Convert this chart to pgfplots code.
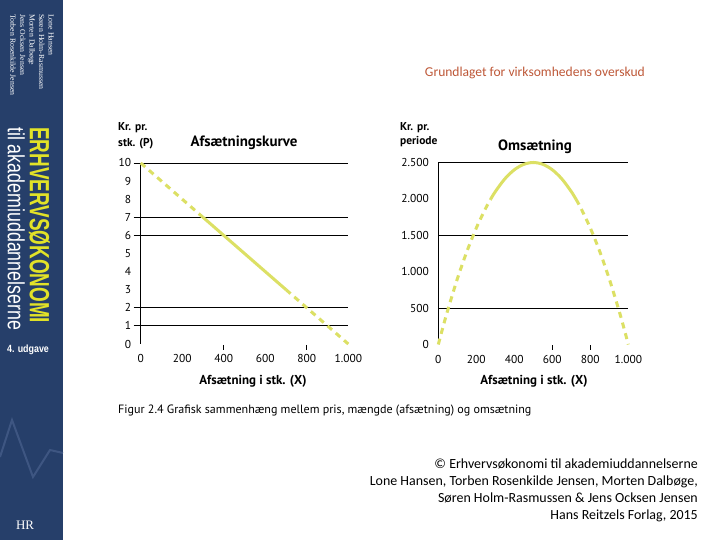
\documentclass[border=0pt]{standalone}
\usepackage{fontspec}
\usepackage{graphicx}
\usepackage{pgfplots}
\pgfplotsset{compat=1.18}
\setmainfont{PT Sans}
\newfontfamily\calib{Carlito}
\newfontfamily\coverserif{Liberation Serif}
\newfontfamily\coversans{Liberation Sans}
\definecolor{curvecol}{RGB}{220,224,100}
\definecolor{covercol}{RGB}{38,63,106}
\definecolor{zigcol}{RGB}{62,86,130}
\definecolor{titlecol}{RGB}{190,88,56}
\definecolor{yelcol}{RGB}{226,226,40}

\pgfplotsset{
  panel/.style={
    scale only axis, anchor=south west,
    axis lines=left, axis line style={-, line width=0.8bp},
    x axis line style={draw=none},
    xmin=0, xmax=1000,
    xtick={0,200,...,1000},
    xticklabels={0,200,400,600,800,1.000},
    major tick length=0pt,
    tick label style={font=\fontsize{11.5}{13}\selectfont},
    /pgf/number format/assume math mode=true,
    xticklabel style={yshift=-7bp},
    yticklabel style={xshift=-6bp},
    clip=false,
    extra y tick labels={},
    extra y tick style={grid=major, major grid style={black, line width=0.8bp},
      major tick length=7bp, tick align=outside, tick style={black, line width=0.8bp}},
  },
  dashseg/.style={curvecol, line width=3bp, dash pattern=on 6bp off 5bp},
  fullseg/.style={curvecol, line width=3bp},
}

\begin{document}
\begin{tikzpicture}[x=1bp, y=1bp]
\path[use as bounding box, fill=white] (0,0) rectangle (720,540);

% book cover strip
\fill[covercol] (0,0) rectangle (63,540);
\draw[zigcol, line width=2bp] (0,83) -- (12,120) -- (33,63) -- (50,90) -- (63,87);
\node[rotate=-90, anchor=north west, inner sep=0pt, align=left, text=white,
      font=\coverserif\fontsize{7.8}{9.6}\selectfont] at (54,526)
  {Lone Hansen\\Søren Holm-Rasmussen\\Morten Dalbøge\\Jens Ocksen Jensen\\Torben Rosenkilde Jensen};
\node[rotate=-90, anchor=north west, inner sep=0pt, text=yelcol] at (50,413)
  {\resizebox{196bp}{20bp}{\coversans\bfseries ERHVERVSØKONOMI}};
\node[rotate=-90, anchor=north west, inner sep=0pt, text=white] at (25,413)
  {\resizebox{203bp}{17bp}{\coversans til akademiuddannelserne}};
\node[text=white, inner sep=0pt, font=\coversans\bfseries\fontsize{10.5}{12}\selectfont] at (28,190)
  {\scalebox{0.85}[1]{4. udgave}};
\node[text=white, inner sep=0pt, font=\coverserif\fontsize{13}{14}\selectfont] at (25,15) {HR};

% slide title
\node[anchor=east, inner sep=0pt, text=titlecol, font=\calib\fontsize{13.6}{15}\selectfont] at (645,467)
  {Grundlaget for virksomhedens overskud};

% left panel
\begin{axis}[panel, at={(140.7bp,196bp)}, width=207.6bp, height=181bp,
  ymin=0, ymax=10, ytick={0,1,...,10}, extra y ticks={1,2,6,7,10}]
\addplot[dashseg] coordinates {(0,10) (300,7)};
\addplot[fullseg] coordinates {(300,7) (700,3)};
\addplot[dashseg] coordinates {(700,3) (1000,0)};
\draw[black, line width=0.8bp] (axis cs:400,0) ++(0,-1bp) -- ++(0,-5bp);
\draw[black, line width=0.8bp] (axis cs:800,0) ++(0,-1bp) -- ++(0,-5bp);
\end{axis}

% right panel
\begin{axis}[panel, at={(438.3bp,195.5bp)}, width=190bp, height=182bp,
  ymin=0, ymax=2500, ytick={0,500,...,2500},
  yticklabels={0,500,1.000,1.500,2.000,2.500}, extra y ticks={500,1500,2500},
  extra y tick style={major tick length=0pt}]
\addplot[dashseg, smooth] coordinates {(0,0) (25,243.75) (50,475) (100,900) (150,1275)
  (200,1600) (250,1875) (275,1993.75)};
\addplot[fullseg, smooth] coordinates {(275,1993.75) (300,2100) (350,2275) (400,2400)
  (450,2475) (500,2500) (550,2475) (600,2400) (650,2275) (700,2100) (725,1993.75)};
\addplot[dashseg, smooth] coordinates {(725,1993.75) (750,1875) (800,1600) (850,1275)
  (900,900) (950,475) (975,243.75) (1000,0)};
\draw[black, line width=0.8bp] (axis cs:600,0) ++(0,-1bp) -- ++(0,-5bp);
\draw[black, line width=0.8bp] (axis cs:800,0) ++(0,-1bp) -- ++(0,-5bp);
\end{axis}

% panel texts
\node[anchor=north west, inner sep=0pt, align=left, font=\bfseries\fontsize{11.5}{16}\selectfont]
  at (118,418) {Kr. pr.\\stk. (P)};
\node[anchor=north west, inner sep=0pt, align=left, font=\bfseries\fontsize{11.5}{14}\selectfont]
  at (400,418) {Kr. pr.\\periode};
\node[font=\bfseries\fontsize{15}{17}\selectfont] at (244,397) {Afsætningskurve};
\node[font=\bfseries\fontsize{15}{17}\selectfont] at (535,393) {Omsætning};
\node[font=\bfseries\fontsize{13}{15}\selectfont] at (253,159) {Afsætning i stk. (X)};
\node[font=\bfseries\fontsize{13}{15}\selectfont] at (534,159) {Afsætning i stk. (X)};

% caption
\node[anchor=west, inner sep=0pt, font=\fontsize{12.1}{14}\selectfont] at (118,129)
  {Figur 2.4 Grafisk sammenhæng mellem pris, mængde (afsætning) og omsætning};

% copyright
\node[anchor=north east, inner sep=0pt, align=right, font=\calib\fontsize{14}{17}\selectfont]
  at (698,81) {© Erhvervsøkonomi til akademiuddannelserne\\
  Lone Hansen, Torben Rosenkilde Jensen, Morten Dalbøge,\\
  Søren Holm-Rasmussen \& Jens Ocksen Jensen\\
  Hans Reitzels Forlag, 2015};
\end{tikzpicture}
\end{document}
